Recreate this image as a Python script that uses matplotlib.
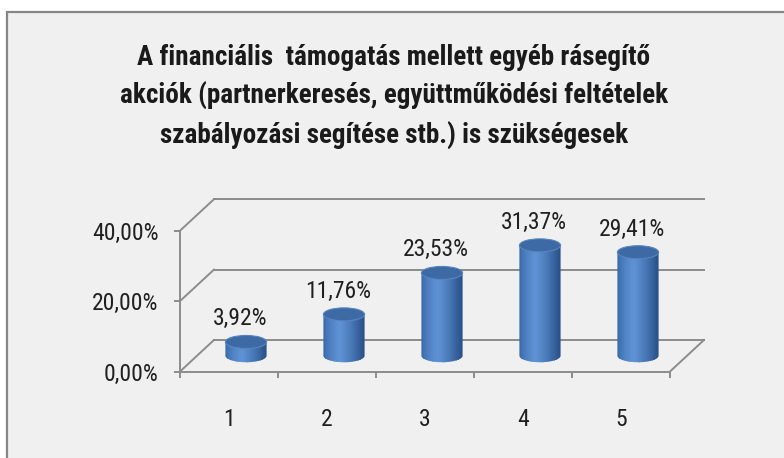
import numpy as np
import matplotlib
matplotlib.use("Agg")
import matplotlib.pyplot as plt
from matplotlib import transforms, font_manager
from matplotlib.patches import Rectangle, Ellipse, Polygon
from matplotlib.lines import Line2D

# ---------------- data ----------------
categories = ["1", "2", "3", "4", "5"]
values = [3.92, 11.76, 23.53, 31.37, 29.41]
value_labels = ["3,92%", "11,76%", "23,53%", "31,37%", "29,41%"]
yticks = [0, 20, 40]
ytick_labels = ["0,00%", "20,00%", "40,00%"]
title_lines = [
    "A financiális  támogatás mellett egyéb rásegítő",
    "akciók (partnerkeresés, együttműködési feltételek",
    "szabályozási segítése stb.) is szükségesek",
]

# ---------------- fonts ----------------
avail = {f.name for f in font_manager.fontManager.ttflist}
narrow = next((f for f in ["Liberation Sans Narrow", "Roboto Condensed",
                           "Liberation Sans"] if f in avail), "DejaVu Sans")

W, H, DPI = 784, 458, 100
BG = "#f0f0f0"
GRID = "#8c8c8c"
TXT = "#202020"

fig = plt.figure(figsize=(W / DPI, H / DPI), dpi=DPI)
fig.patch.set_facecolor("white")

# chart panel with border
fig.patches.append(Rectangle((6.5 / W, -0.05), 1.2, 1 - 12 / H + 0.05,
                             transform=fig.transFigure, facecolor=BG,
                             edgecolor="#868686", linewidth=1.6, zorder=-10))

# title
for line, base in zip(title_lines, [65, 104, 144]):
    fig.text(394 / W, 1 - base / H, line, ha="center", va="baseline",
             fontsize=19.5, fontweight="bold", family=[narrow, "DejaVu Sans"],
             color="#1a1a1a")

# front plane axes
x0, x1 = 180, 670
y0, y40 = 371.5, 230.7
ax = fig.add_axes([x0 / W, (H - y0) / H, (x1 - x0) / W, (y0 - y40) / H])
ax.set_facecolor("none")
ax.set_xlim(0.5, 5.5)
ax.set_ylim(0, 40)
for s in ["top", "right"]:
    ax.spines[s].set_visible(False)
for s in ["left", "bottom"]:
    ax.spines[s].set_color(GRID)
    ax.spines[s].set_linewidth(1.4)
ax.set_yticks(yticks, ytick_labels)
xpos = np.arange(1, len(categories) + 1)
ax.set_xticks(xpos, categories)
ax.set_xticks(np.arange(0.5, len(categories) + 1, 1.0), minor=True)
ax.tick_params(axis="y", direction="out", length=4.5, width=1.4, color=GRID,
               pad=11, labelsize=17, labelcolor=TXT)
ax.tick_params(axis="x", which="major", length=0, pad=26, labelsize=17,
               labelcolor=TXT)
ax.tick_params(axis="x", which="minor", direction="out", length=4.5,
               width=1.4, color=GRID)
for lab in ax.get_yticklabels() + ax.get_xticklabels():
    lab.set_family([narrow, "DejaVu Sans"])

# depth offsets (pixels)
DX, DY = 34, 31.5
back = ax.transData + transforms.ScaledTranslation(DX / DPI, DY / DPI, fig.dpi_scale_trans)
mid = ax.transData + transforms.ScaledTranslation(DX / 2 / DPI, DY / 2 / DPI, fig.dpi_scale_trans)
lab_t = ax.transData + transforms.ScaledTranslation((DX / 2 - 6) / DPI, (DY / 2 + 23) / DPI,
                                                    fig.dpi_scale_trans)

xmin, xmax = 0.5, len(categories) + 0.5
# back wall gridlines
for v in yticks:
    ax.add_line(Line2D([xmin, xmax], [v, v], transform=back, color=GRID,
                       lw=1.4, clip_on=False, zorder=1))

# side wall / floor diagonals (front point -> back point)
def diag(xd, v):
    pf = ax.transData.transform((xd, v))
    pb = back.transform((xd, v))
    fig.lines.append(Line2D([pf[0], pb[0]], [pf[1], pb[1]], transform=None,
                            color=GRID, lw=1.4, zorder=1))

fig.canvas.draw()
for v in yticks:
    diag(xmin, v)
diag(xmax, 0)

# cylinders
w = 0.42
eh = 13 / ((y0 - y40) / 40)  # ellipse height in data units
N = 60
def shade(t):
    dark_l = np.array([0x2e, 0x5d, 0x9c]) / 255
    light = np.array([0x5e, 0x92, 0xd4]) / 255
    dark_r = np.array([0x26, 0x4e, 0x86]) / 255
    if t < 0.38:
        f = t / 0.38
        return dark_l + (light - dark_l) * np.sqrt(f)
    f = (t - 0.38) / 0.62
    return light + (dark_r - light) * f ** 1.3

for xi, v in zip(xpos, values):
    th = np.linspace(np.pi, 2 * np.pi, 60)
    body_xy = [(xi - w / 2, v), (xi - w / 2, 0)]
    body_xy += list(zip(xi + w / 2 * np.cos(th), eh / 2 * np.sin(th)))
    body_xy += [(xi + w / 2, 0), (xi + w / 2, v)]
    body = Polygon(body_xy, closed=True, transform=mid, facecolor="none",
                   edgecolor="none", zorder=3)
    for i in range(N):
        t = (i + 0.5) / N
        r = Rectangle((xi - w / 2 + i * w / N, -eh), w / N * 1.2, v + eh,
                      transform=mid, facecolor=shade(t), edgecolor="none",
                      zorder=3)
        r.set_clip_path(body)
        ax.add_patch(r)
    top = Ellipse((xi, v), w, eh, transform=mid, facecolor="#3d69a5",
                  edgecolor="#5884c0", lw=0.8, clip_on=False, zorder=4)
    ax.add_patch(top)

# data labels
for xi, v, lab in zip(xpos, values, value_labels):
    ax.text(xi, v, lab, transform=lab_t, ha="center", va="center",
            fontsize=17, family=[narrow, "DejaVu Sans"], color=TXT,
            clip_on=False, zorder=5)

fig.savefig("out.png", dpi=DPI, facecolor=fig.get_facecolor())
